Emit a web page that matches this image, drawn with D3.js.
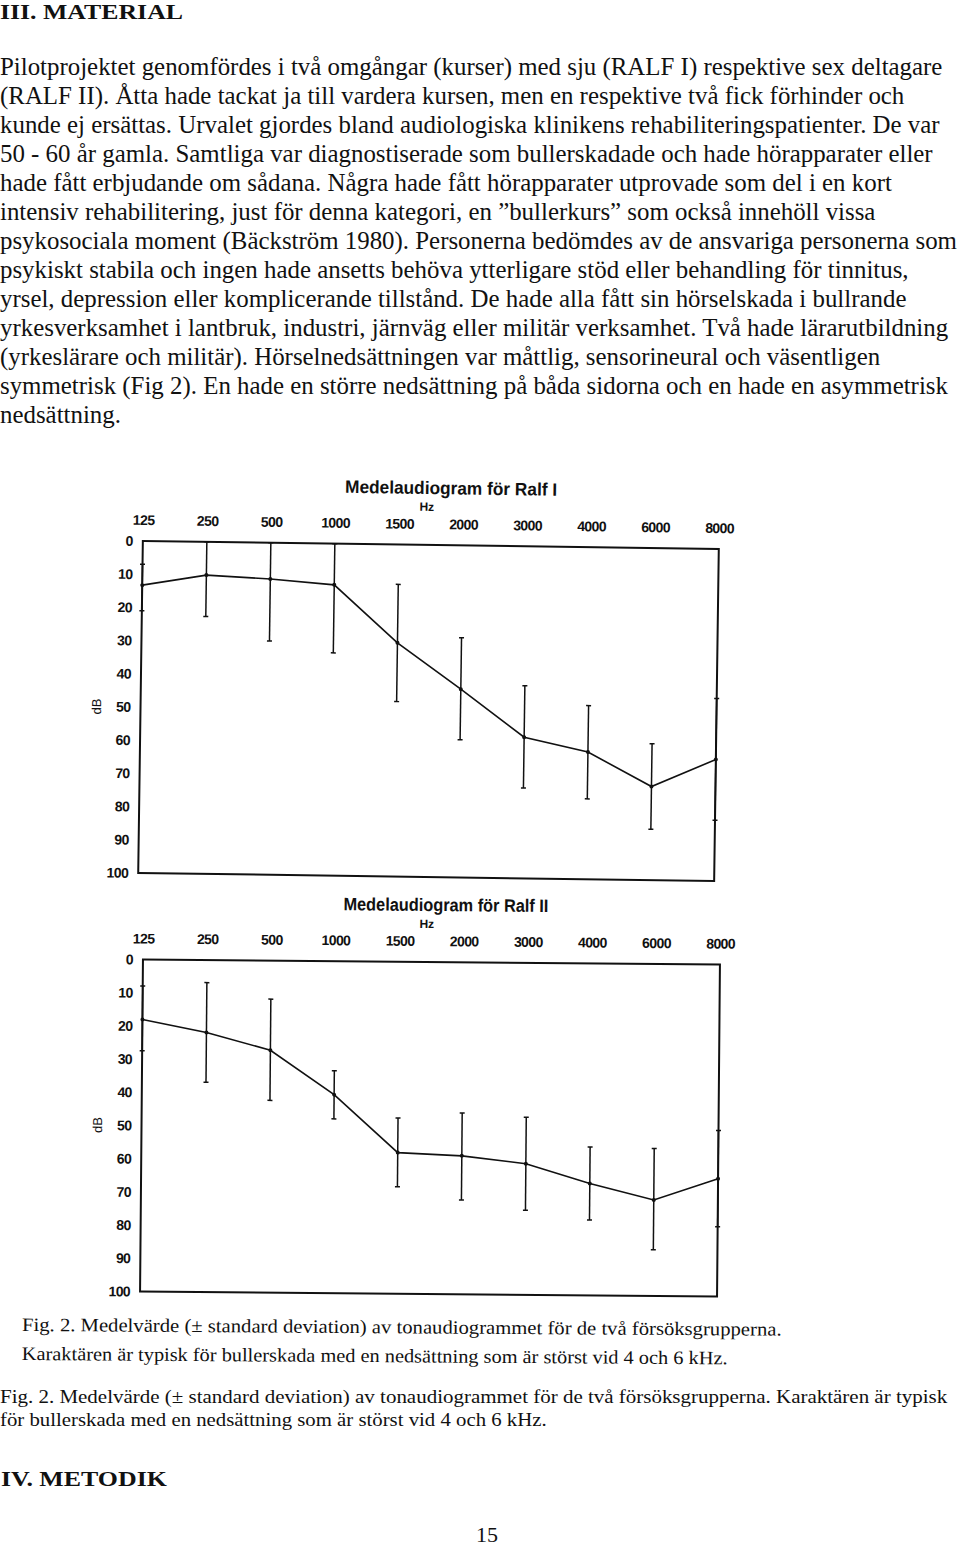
<!DOCTYPE html>
<html><head><meta charset="utf-8">
<script src="https://cdn.jsdelivr.net/npm/d3@7"></script>
<style>
body{margin:0;background:#fff}
svg{display:block}
</style>
</head><body>
<svg id="page" width="960" height="1546"></svg>
<script>
// ---------- data ----------
const freqLabels = ["125","250","500","1000","1500","2000","3000","4000","6000","8000"];
const dbTicks = [0,10,20,30,40,50,60,70,80,90,100];

const ralf1Mean  = [13.3,10.0,10.9,12.4,29.6,43.3,57.5,61.7,71.8,63.4];
const ralf1Upper = [7.0, 0.0, 0.0, 0.0, 12.0,27.8,42.0,47.7,58.9,45.0];
const ralf1Lower = [21.0,22.5,29.6,32.9,47.3,58.5,72.8,75.8,84.7,81.7];

const ralf2Mean  = [18.1,21.8,27.0,40.2,57.5,58.3,60.5,66.3,71.1,64.5];
const ralf2Upper = [8.0, 6.8, 11.6,33.0,47.1,45.4,46.5,55.3,55.6,50.0];
const ralf2Lower = [27.5,36.8,42.1,47.5,67.8,71.6,74.5,77.3,86.1,79.0];

const chartTitles = ["Medelaudiogram för Ralf I","Medelaudiogram för Ralf II"];
const freqUnit = "Hz";
const dbUnit = "dB";

const headingTop = "III.  MATERIAL";
const bodyLines = [
 "Pilotprojektet genomfördes i två omgångar (kurser) med sju (RALF I) respektive sex deltagare",
 "(RALF II). Åtta hade tackat ja till vardera kursen, men en respektive två fick förhinder och",
 "kunde ej ersättas. Urvalet gjordes bland audiologiska klinikens rehabiliteringspatienter. De var",
 "50 - 60 år gamla. Samtliga var diagnostiserade som bullerskadade och hade hörapparater eller",
 "hade fått erbjudande om sådana. Några hade fått hörapparater utprovade som del i en kort",
 "intensiv rehabilitering, just för denna kategori, en ”bullerkurs” som också innehöll vissa",
 "psykosociala moment (Bäckström 1980). Personerna bedömdes av de ansvariga personerna som",
 "psykiskt stabila och ingen hade ansetts behöva ytterligare stöd eller behandling för tinnitus,",
 "yrsel, depression eller komplicerande tillstånd. De hade alla fått sin hörselskada i bullrande",
 "yrkesverksamhet i lantbruk, industri, järnväg eller militär verksamhet. Två hade lärarutbildning",
 "(yrkeslärare och militär). Hörselnedsättningen var måttlig, sensorineural och väsentligen",
 "symmetrisk (Fig 2). En hade en större nedsättning på båda sidorna och en hade en asymmetrisk",
 "nedsättning."
];
const scanCaption = [
 "Fig. 2.  Medelvärde (± standard deviation)  av tonaudiogrammet för de två försöksgrupperna.",
 "Karaktären är typisk för bullerskada med en nedsättning som är störst vid 4 och 6 kHz."
];
const pageCaption = [
 "Fig. 2.  Medelvärde (± standard deviation)  av tonaudiogrammet för de två försöksgrupperna. Karaktären är typisk",
 "för bullerskada med en nedsättning som är störst vid 4 och 6 kHz."
];
const headingBottom = "IV.  METODIK";
const pageNumber = "15";

// ---------- drawing ----------
const svg = d3.select("#page");
const serif = "'Liberation Serif','Times New Roman',Times,serif";
const sans = "'Liberation Sans Narrow','Liberation Sans','Arial',sans-serif";
const ink = "#111";

function condensed(parent, str, x, y, targetW, attrs){
  const g = parent.append("g");
  const t = g.append("text").attr("x",0).attr("y",0).text(str);
  Object.entries(attrs).forEach(([a,v])=>t.attr(a,v));
  const w = t.node().getComputedTextLength();
  const s = targetW / w;
  g.attr("transform",`translate(${x},${y}) scale(${s},1)`);
  return s;
}

// Heading
condensed(svg, headingTop, 0, 19, 183,
  {"font-family":serif,"font-weight":"bold","font-size":22,"fill":ink});

// Body text
const probe = svg.append("text").attr("font-family",serif).attr("font-size",26).text(bodyLines[0]);
const kBody = 943 / probe.node().getComputedTextLength();
probe.remove();
const body = svg.append("g").attr("transform",`scale(${kBody},1)`)
  .attr("font-family",serif).attr("font-size",26).attr("fill",ink);
body.selectAll("text").data(bodyLines).join("text")
  .attr("x",0).attr("y",(d,i)=>75 + i*29).text(d=>d);

// Charts
function drawChart(cfg){
  const g = svg.append("g")
    .attr("transform",`rotate(${cfg.angle},${(cfg.left+cfg.right)/2},${(cfg.top+cfg.bottom)/2})`);
  const x = d3.scalePoint().domain(freqLabels).range([cfg.left,cfg.right]);
  const y = d3.scaleLinear().domain([0,100]).range([cfg.top,cfg.bottom]);

  g.append("rect").attr("x",cfg.left).attr("y",cfg.top)
    .attr("width",cfg.right-cfg.left).attr("height",cfg.bottom-cfg.top)
    .attr("fill","none").attr("stroke",ink).attr("stroke-width",2);

  const ax = g.append("g").attr("transform",`translate(0,${cfg.top-16})`)
    .call(d3.axisTop(x).tickSize(0).tickPadding(0));
  ax.select(".domain").remove();
  ax.selectAll("text").attr("font-family",sans).attr("font-size",14)
    .attr("font-weight","bold").attr("fill",ink).attr("dy",0)
    .attr("letter-spacing",-0.6);

  const ay = g.append("g").attr("transform",`translate(${cfg.left-10},0)`)
    .call(d3.axisLeft(y).tickValues(dbTicks).tickSize(0).tickPadding(0));
  ay.select(".domain").remove();
  ay.selectAll("text").attr("font-family",sans).attr("font-size",14)
    .attr("font-weight","bold").attr("fill",ink).attr("letter-spacing",-0.6);

  g.append("text").attr("transform",`translate(${cfg.left-44},${y(50)}) rotate(-90)`)
    .attr("text-anchor","middle").attr("dy","0.35em")
    .attr("font-family",sans).attr("font-size",13).attr("fill",ink)
    .text(dbUnit);

  g.append("text").attr("x",cfg.titleX).attr("y",cfg.top-51)
    .attr("text-anchor","middle").attr("font-family",sans).attr("font-size",18)
    .attr("font-weight","bold").attr("fill",ink)
    .attr("textLength",cfg.titleW).attr("lengthAdjust","spacingAndGlyphs")
    .text(cfg.title);
  g.append("text").attr("x",cfg.hzX).attr("y",cfg.top-34)
    .attr("text-anchor","middle").attr("font-family",sans).attr("font-size",12)
    .attr("font-weight","bold").attr("fill",ink).text(freqUnit);

  const pts = freqLabels.map((f,i)=>({f, m:cfg.mean[i], u:cfg.upper[i], l:cfg.lower[i]}));

  const eb = g.append("g").attr("stroke",ink).attr("stroke-width",1.5).attr("fill","none");
  eb.selectAll("line.v").data(pts).join("line").attr("class","v")
    .attr("x1",d=>x(d.f)).attr("x2",d=>x(d.f)).attr("y1",d=>y(d.u)).attr("y2",d=>y(d.l));
  eb.selectAll("line.cu").data(pts).join("line").attr("class","cu")
    .attr("x1",d=>x(d.f)-2.5).attr("x2",d=>x(d.f)+2.5).attr("y1",d=>y(d.u)).attr("y2",d=>y(d.u));
  eb.selectAll("line.cl").data(pts).join("line").attr("class","cl")
    .attr("x1",d=>x(d.f)-2.5).attr("x2",d=>x(d.f)+2.5).attr("y1",d=>y(d.l)).attr("y2",d=>y(d.l));

  g.append("path").datum(pts)
    .attr("d",d3.line().x(d=>x(d.f)).y(d=>y(d.m)))
    .attr("fill","none").attr("stroke",ink).attr("stroke-width",1.6);
  g.selectAll("circle.pt").data(pts).join("circle").attr("class","pt")
    .attr("cx",d=>x(d.f)).attr("cy",d=>y(d.m)).attr("r",2).attr("fill",ink);
}

drawChart({left:140.5,right:716.5,top:545,bottom:877,angle:0.8,
  title:chartTitles[0],titleX:448,titleW:212,hzX:424,
  mean:ralf1Mean,upper:ralf1Upper,lower:ralf1Lower});
drawChart({left:141.5,right:718.5,top:962,bottom:1294,angle:0.5,
  title:chartTitles[1],titleX:444,titleW:205,hzX:425,
  mean:ralf2Mean,upper:ralf2Upper,lower:ralf2Lower});

// Caption inside the scanned figure (slight scan tilt)
const sc = svg.append("g").attr("transform","rotate(0.35,22,1330)");
const capAttrs = {"font-family":serif,"font-size":19,"fill":ink};
condensed(sc, scanCaption[0], 22, 1331, 760, capAttrs);
condensed(sc, scanCaption[1], 22, 1360, 706, capAttrs);

// Page caption
condensed(svg, pageCaption[0], 0, 1403, 948, capAttrs);
condensed(svg, pageCaption[1], 0, 1426, 547, capAttrs);

condensed(svg, headingBottom, 1, 1486, 166,
  {"font-family":serif,"font-weight":"bold","font-size":22,"fill":ink});

svg.append("text").attr("x",487).attr("y",1542).attr("text-anchor","middle")
  .attr("font-family",serif).attr("font-size",22).attr("fill",ink).text(pageNumber);
</script>
</body></html>
